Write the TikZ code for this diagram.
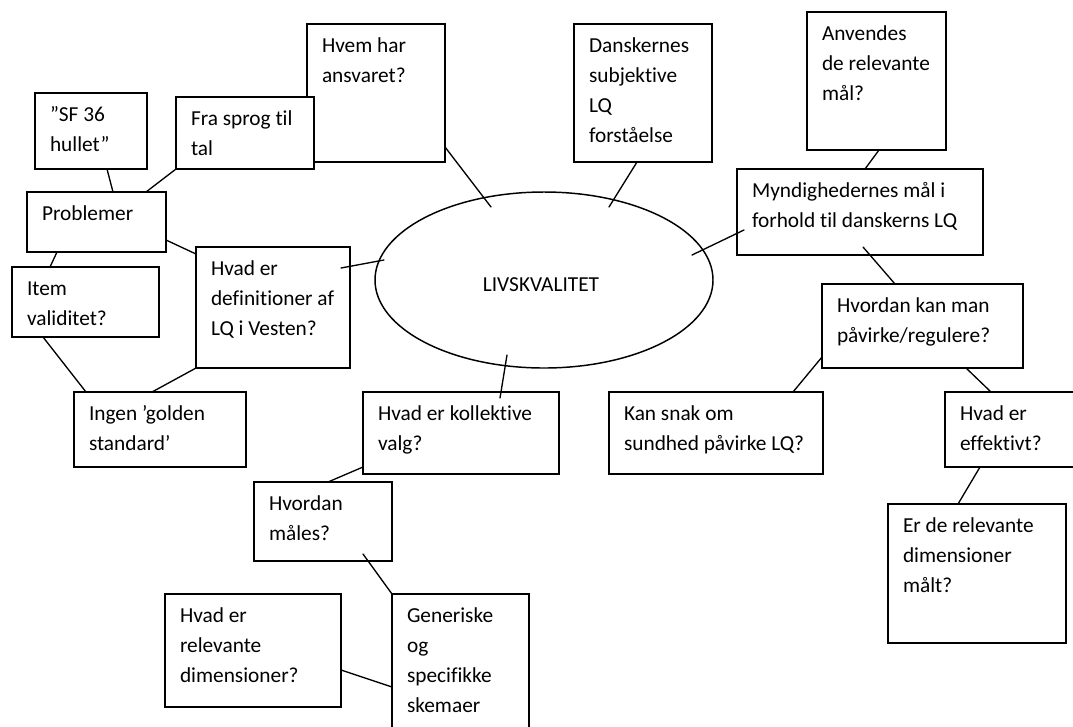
\documentclass[tikz,border=0pt]{standalone}
\usepackage{fontspec}
\setmainfont{Carlito}[Ligatures=NoCommon]
\usetikzlibrary{calc,shapes.geometric}
\tikzset{
  bxthin/.style={draw=black, inner sep=0pt, outer sep=0pt, line width=1.1pt},
  bxmid/.style={draw=black, inner sep=0pt, outer sep=0pt, line width=1.4pt},
  bxthick/.style={draw=black, inner sep=0pt, outer sep=0pt, line width=1.7pt},
  txt/.style={inner sep=0pt, outer sep=0pt, align=left, anchor=north west, text=black,
    font=\fontsize{16}{22.5}\selectfont},
  con/.style={line width=1pt, line cap=round},
}
\newcommand\drawqbox[7]{%
  \node[#6, anchor=north west, minimum width={(#4-#2)*0.75pt}, minimum height={(#5-#3)*0.75pt}] (#1) at (#2,#3) {};
  \node[txt] (#1-t) at ($(#1.north west)+(15,6.7)$) {\rule{0pt}{16pt}#7};
}
\begin{document}
\begin{tikzpicture}[x=0.75pt,y=-0.75pt]
\useasboundingbox (0,0) rectangle (1073,726);
\clip (0,0) rectangle (1073,726);

% boxes
\drawqbox{hvem}{307}{24}{445}{162}{bxthin}{Hvem har\\ansvaret?}
\drawqbox{fra}{176}{97}{314}{169}{bxthick,fill=white}{Fra sprog til\\tal}
\drawqbox{sf}{35}{93}{147}{169}{bxthick}{”SF 36\\hullet”}
\drawqbox{prob}{27}{192}{166}{252}{bxthick}{Problemer}
\drawqbox{item}{12}{267}{159}{337}{bxmid}{Item\\validitet?}
\drawqbox{def}{196}{247}{350}{368}{bxmid}{Hvad er\\definitioner af\\LQ i Vesten?}
\drawqbox{ingen}{74}{392}{246}{467}{bxthick}{Ingen ’golden\\standard’}
\drawqbox{koll}{363}{392}{559}{474}{bxthick}{Hvad er kollektive\\valg?}
\drawqbox{maal}{254}{482}{392}{561}{bxthin}{Hvordan\\måles?}
\drawqbox{rel}{165}{594}{341}{707}{bxmid}{Hvad er\\relevante\\dimensioner?}
\drawqbox{gen}{392}{594}{529}{745}{bxmid}{Generiske\\og\\specifikke\\skemaer}
\drawqbox{dansk}{574}{24}{712}{162}{bxthin}{Danskernes\\subjektive\\LQ\\forståelse}
\drawqbox{anv}{807}{12}{946}{150}{bxthick}{Anvendes\\de relevante\\mål?}
\drawqbox{mynd}{737}{169}{983}{255}{bxmid}{Myndighedernes mål i\\forhold til danskerns LQ}
\drawqbox{hk}{822}{284}{1023}{368}{bxthick}{Hvordan kan man\\påvirke/regulere?}
\drawqbox{ks}{609}{392}{823}{474}{bxmid}{Kan snak om\\sundhed påvirke LQ?}
\drawqbox{eff}{945}{392}{1085}{467}{bxthick}{Hvad er\\effektivt?}
\drawqbox{erde}{888}{504}{1066}{643}{bxthick}{Er de relevante\\dimensioner\\målt?}

% central ellipse
\node[ellipse, draw=black, line width=1.1pt, inner sep=0pt, outer sep=0pt,
      minimum width={338*0.75pt}, minimum height={176*0.75pt}] (liv) at (544,280) {};
\node[inner sep=0pt, text=black, font=\fontsize{16}{22.5}\selectfont] (liv-t) at (541,285) {LIVSKVALITET};

% connectors
\draw[con] ($(sf.south west)+(72,0)$) -- ($(prob.north west)+(86,0)$);
\draw[con] (fra.south west) -- ($(prob.north west)+(119,0)$);
\draw[con] ($(prob.north east)+(0,48)$) -- ($(def.north west)+(0,7)$);
\draw[con] ($(prob.south west)+(30,0)$) -- ($(item.north west)+(38,0)$);
\draw[con] ($(item.south west)+(31,0)$) -- ($(ingen.north west)+(12,0)$);
\draw[con] (def.south west) -- ($(ingen.north west)+(78,0)$);
\draw[con] ($(def.north east)+(-9,21)$) -- ($(liv.center)+(-160,-20)$);
\draw[con] ($(hvem.south east)+(0,-15)$) -- ($(liv.center)+(-53,-73)$);
\draw[con] ($(dansk.south west)+(63,0)$) -- ($(liv.center)+(65,-73)$);
\draw[con] ($(anv.south west)+(72,0)$) -- ($(mynd.north west)+(128,0)$);
\draw[con] ($(mynd.north west)+(7,61)$) -- ($(liv.center)+(148,-25)$);
\draw[con] ($(mynd.north west)+(126,78)$) -- ($(hk.north west)+(73,0)$);
\draw[con] ($(hk.north west)+(0,73)$) -- ($(ks.north west)+(184,0)$);
\draw[con] ($(hk.south west)+(144,0)$) -- ($(eff.north west)+(46,0)$);
\draw[con] ($(eff.south west)+(35,0)$) -- ($(erde.north west)+(70,0)$);
\draw[con] ($(liv.center)+(-37,75)$) -- ($(koll.north west)+(137,6)$);
\draw[con] ($(koll.south west)+(0,-7)$) -- ($(maal.north west)+(74,0)$);
\draw[con] ($(maal.south east)+(-29,-7)$) -- (gen.north west);
\draw[con] ($(rel.north east)+(0,76)$) -- ($(gen.north west)+(0,93)$);
\end{tikzpicture}
\end{document}
